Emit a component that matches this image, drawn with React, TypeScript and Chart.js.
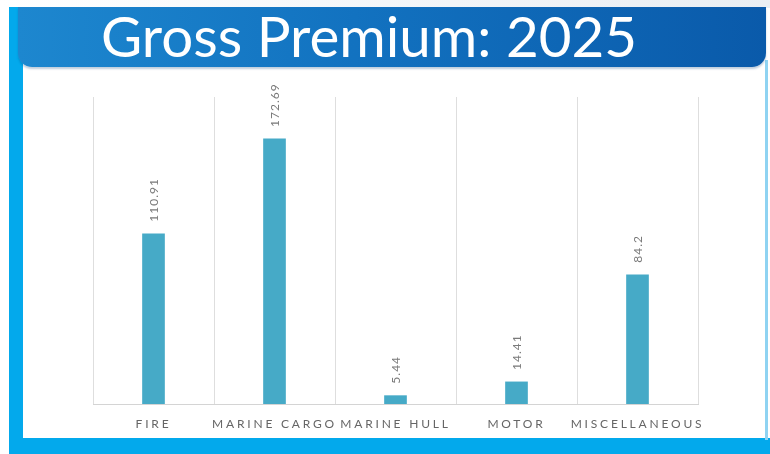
import React, { useEffect, useRef } from "react";
import { Chart, registerables } from "chart.js";

Chart.register(...registerables);

const title = "Gross Premium: 2025";
const categories = ["FIRE", "MARINE CARGO", "MARINE HULL", "MOTOR", "MISCELLANEOUS"];
const premiums = [110.91, 172.69, 5.44, 14.41, 84.2];
const valueLabels = ["110.91", "172.69", "5.44", "14.41", "84.2"];
const yMax = 200;

const labelPlugin = {
  id: "valueLabels",
  beforeDraw(chart: any) {
    chart.ctx.letterSpacing = "2.8px";
  },
  afterDatasetsDraw(chart: any) {
    const ctx = chart.ctx;
    const meta = chart.getDatasetMeta(0);
    meta.data.forEach((bar: any, i: number) => {
      ctx.save();
      ctx.letterSpacing = "1px";
      ctx.translate(bar.x + 1, bar.y - 12);
      ctx.rotate(-Math.PI / 2);
      ctx.font = "12px Lato, 'Open Sans', sans-serif";
      ctx.fillStyle = "#7a7a7a";
      ctx.textAlign = "left";
      ctx.textBaseline = "middle";
      ctx.fillText(valueLabels[i], 0, 0);
      ctx.restore();
    });
  },
};

export default function App() {
  const ref = useRef<HTMLCanvasElement | null>(null);

  useEffect(() => {
    document.body.style.margin = "0";
    const canvas = ref.current;
    if (!canvas) return;
    const chart = new Chart(canvas, {
      type: "bar",
      data: {
        labels: categories,
        datasets: [
          {
            data: premiums,
            backgroundColor: "#46aac7",
            barThickness: 22,
          },
        ],
      },
      options: {
        animation: false,
        responsive: false,
        maintainAspectRatio: false,
        layout: { padding: { left: 70, right: 65, top: 27, bottom: 8 } },
        plugins: { legend: { display: false }, tooltip: { enabled: false }, title: { display: false } },
        scales: {
          x: {
            offset: true,
            grid: { display: true, offset: true, color: "#dedede", lineWidth: 1, drawTicks: false },
            border: { display: true, color: "#d4d4d4" },
            ticks: {
              padding: 13,
              color: "#666666",
              autoSkip: false,
              maxRotation: 0,
              minRotation: 0,
              font: { family: "Lato, 'Open Sans', sans-serif", size: 12 },
            },
            afterFit(scale: any) {
              scale.height = 27;
            },
          },
          y: {
            display: false,
            min: 0,
            max: yMax,
          },
        },
      },
      plugins: [labelPlugin],
    });
    return () => chart.destroy();
  }, []);

  return (
    <div style={{ position: "relative", width: 770, height: 454, background: "#ffffff", overflow: "hidden", fontFamily: "Lato, sans-serif" }}>
      <div style={{ position: "absolute", left: 0, top: 0, width: 770, height: 8, background: "linear-gradient(90deg, #ffffff, #e9eef3)" }} />
      <div style={{ position: "absolute", left: 9, top: 7, width: 14, height: 447, background: "#03a9ec" }} />
      <div style={{ position: "absolute", left: 9, top: 438, width: 761, height: 16, background: "#03a9ec" }} />
      <div style={{ position: "absolute", left: 765, top: 60, width: 3, height: 380, background: "#8fd3f2" }} />
      <div
        style={{
          position: "absolute",
          left: 18,
          top: 7,
          width: 748,
          height: 60,
          background: "linear-gradient(90deg, #1d87cf 0%, #1272c0 45%, #0a5aaa 100%)",
          borderBottomLeftRadius: 14,
          borderBottomRightRadius: 14,
          boxShadow: "0 2px 2px rgba(0,60,120,0.25)",
        }}
      />
      <div
        style={{
          position: "absolute",
          left: 18,
          top: 2,
          width: 702,
          height: 66,
          color: "#ffffff",
          fontSize: 56.5,
          lineHeight: "66px",
          textAlign: "center",
          fontFamily: "Lato, 'Open Sans', sans-serif",
        }}
      >
        {title}
      </div>
      <canvas ref={ref} width={740} height={369} style={{ position: "absolute", left: 23, top: 70, width: 740, height: 369 }} />
    </div>
  );
}
